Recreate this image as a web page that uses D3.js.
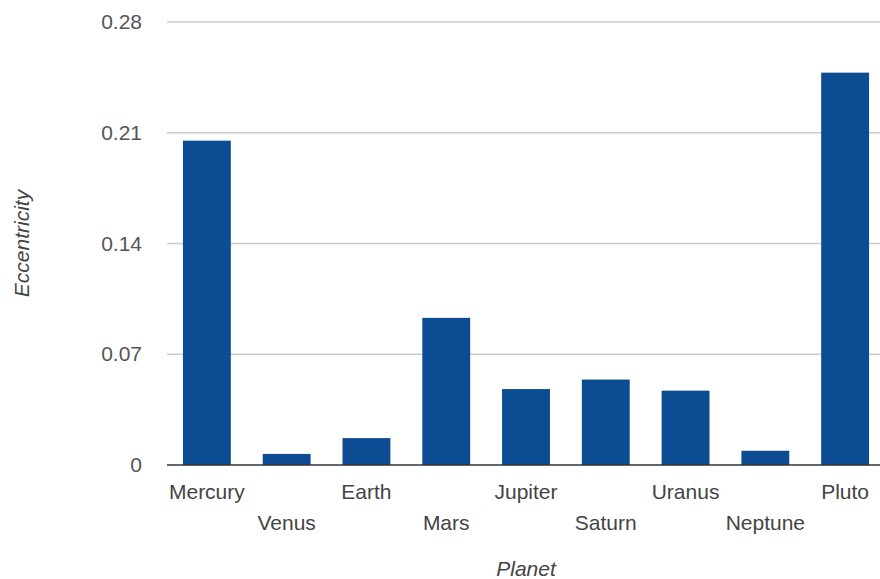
<!DOCTYPE html>
<html>
<head>
<meta charset="utf-8">
<script src="https://cdn.jsdelivr.net/npm/d3@7"></script>
<style>
  html, body { margin: 0; padding: 0; background: #fff; }
  svg { display: block; }
  text { font-family: Arial, "Liberation Sans", sans-serif; }
</style>
</head>
<body>
<svg id="chart" width="880" height="579"></svg>
<script>
// Orbital eccentricity per planet
const planets = ["Mercury", "Venus", "Earth", "Mars", "Jupiter", "Saturn", "Uranus", "Neptune", "Pluto"];
const eccentricity = [0.205, 0.007, 0.017, 0.093, 0.048, 0.054, 0.047, 0.009, 0.248];
const yTicks = [0, 0.07, 0.14, 0.21, 0.28];
const yTickLabels = ["0", "0.07", "0.14", "0.21", "0.28"];
const xTitle = "Planet";
const yTitle = "Eccentricity";

const svg = d3.select("#chart");
const plot = { left: 167, right: 885, top: 22, bottom: 465 };

const x = d3.scaleBand()
  .domain(planets)
  .range([plot.left, plot.right])
  .paddingInner(0.4)
  .paddingOuter(0.2);

const y = d3.scaleLinear()
  .domain([0, 0.28])
  .range([plot.bottom, plot.top]);

// Horizontal gridlines
svg.append("g")
  .selectAll("line")
  .data(yTicks.slice(1))
  .join("line")
  .attr("x1", plot.left)
  .attr("x2", 880)
  .attr("y1", d => y(d))
  .attr("y2", d => y(d))
  .attr("stroke", "#cccccc")
  .attr("stroke-width", 1.5);

// Y axis labels
const yAxis = d3.axisLeft(y)
  .tickValues(yTicks)
  .tickFormat((d, i) => yTickLabels[i])
  .tickSize(0)
  .tickPadding(0);

svg.append("g")
  .attr("transform", `translate(${plot.left - 25},0)`)
  .call(yAxis)
  .call(g => g.select(".domain").remove())
  .call(g => g.selectAll("text")
    .attr("font-size", 21)
    .attr("font-family", "Arial, 'Liberation Sans', sans-serif")
    .attr("fill", "#555555"));

// Bars
svg.append("g")
  .selectAll("rect")
  .data(planets)
  .join("rect")
  .attr("x", d => x(d))
  .attr("width", x.bandwidth())
  .attr("y", (d, i) => y(eccentricity[i]))
  .attr("height", (d, i) => y(0) - y(eccentricity[i]))
  .attr("fill", "#0c4c92");

// Baseline
svg.append("line")
  .attr("x1", plot.left)
  .attr("x2", 880)
  .attr("y1", y(0))
  .attr("y2", y(0))
  .attr("stroke", "#333333")
  .attr("stroke-width", 1.5);

// Category labels in two staggered rows
svg.append("g")
  .selectAll("text")
  .data(planets)
  .join("text")
  .attr("x", d => x(d) + x.bandwidth() / 2)
  .attr("y", (d, i) => i % 2 === 0 ? 499 : 530)
  .attr("text-anchor", "middle")
  .attr("font-size", 21)
  .attr("fill", "#444444")
  .text(d => d);

// Axis titles
svg.append("text")
  .attr("x", (plot.left + plot.right) / 2)
  .attr("y", 576)
  .attr("text-anchor", "middle")
  .attr("font-size", 21)
  .attr("font-style", "italic")
  .attr("fill", "#444444")
  .text(xTitle);

svg.append("text")
  .attr("transform", `translate(29,${(plot.top + plot.bottom) / 2}) rotate(-90)`)
  .attr("text-anchor", "middle")
  .attr("font-size", 21)
  .attr("font-style", "italic")
  .attr("fill", "#444444")
  .text(yTitle);
</script>
</body>
</html>
